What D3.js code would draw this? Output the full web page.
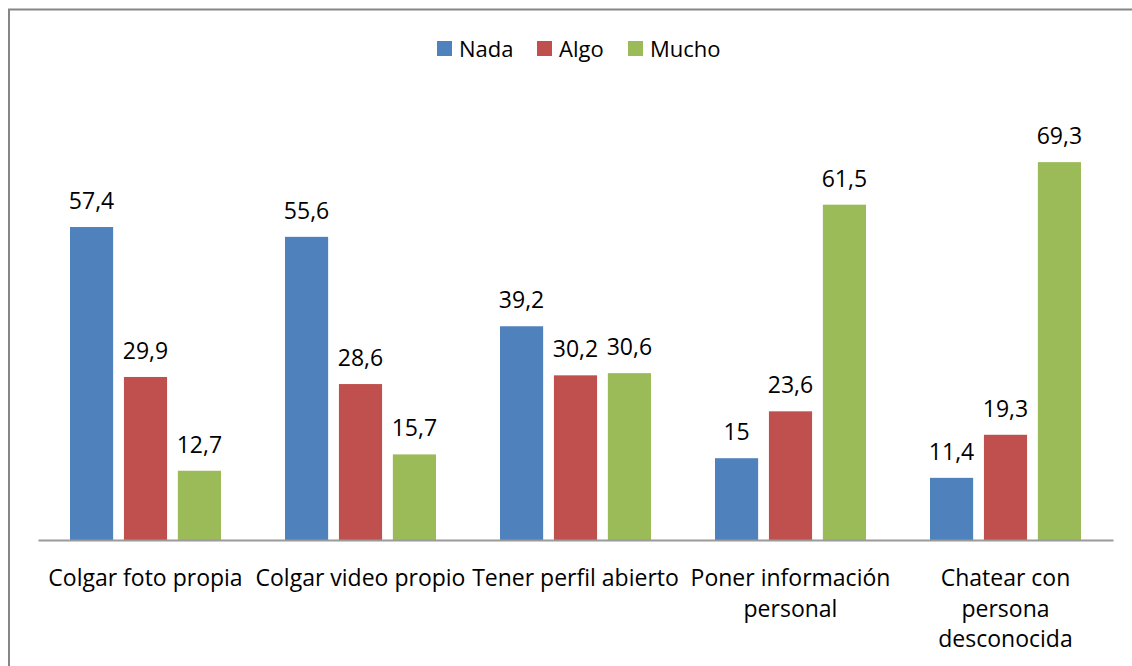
<!DOCTYPE html>
<html>
<head>
<meta charset="utf-8">
<script src="https://cdn.jsdelivr.net/npm/d3@7"></script>
<style>
  body { margin: 0; background: #fff; }
  svg text { font-family: "Open Sans", sans-serif; fill: #000; }
</style>
</head>
<body>
<div id="container"></div>
<script>
var WIDTH = 1132,
	HEIGHT = 666,
	LEFT = 38,
	RIGHT = 1113,
	BASE = 540;

var categories = ["Colgar foto propia", "Colgar video propio", "Tener perfil abierto", "Poner información personal", "Chatear con persona desconocida"];
var tickLabels = [["Colgar foto propia"], ["Colgar video propio"], ["Tener perfil abierto"], ["Poner información", "personal"], ["Chatear con", "persona", "desconocida"]];
var seriesNames = ["Nada", "Algo", "Mucho"];
var colors = ["#4F81BD", "#C0504D", "#9BBB59"];
var nada = [57.4, 55.6, 39.2, 15, 11.4];
var algo = [29.9, 28.6, 30.2, 23.6, 19.3];
var mucho = [12.7, 15.7, 30.6, 61.5, 69.3];
var series = [nada, algo, mucho];

var xScale = d3.scaleBand().domain(categories).range([LEFT, RIGHT]).paddingInner(0).paddingOuter(0);
var inner = d3.scaleBand().domain(seriesNames).range([32, 215 - 32]).paddingInner(0.2).paddingOuter(0);
var yScale = d3.scaleLinear().domain([0, 80]).range([BASE, BASE - 436.2]);

var fmt = function (v) { return String(v).replace(".", ","); };

var svg = d3.select('#container').append('svg')
	.attr('width', WIDTH)
	.attr('height', HEIGHT);

// outer frame
svg.append('rect')
	.attr('x', 9).attr('y', 9.5)
	.attr('width', WIDTH + 10).attr('height', HEIGHT + 10)
	.attr('fill', 'none').attr('stroke', '#868686').attr('stroke-width', 2);

series.forEach(function (vals, si) {
	var g = svg.append('g');
	g.selectAll('rect').data(vals).enter().append('rect')
		.attr('x', function (d, i) { return xScale(categories[i]) + inner(seriesNames[si]); })
		.attr('y', function (d) { return yScale(d); })
		.attr('width', inner.bandwidth())
		.attr('height', function (d) { return BASE - yScale(d); })
		.attr('fill', colors[si]);
	g.selectAll('text').data(vals).enter().append('text')
		.attr('x', function (d, i) { return xScale(categories[i]) + inner(seriesNames[si]) + inner.bandwidth() / 2; })
		.attr('y', function (d) { return yScale(d) - 18; })
		.attr('text-anchor', 'middle')
		.style('font-size', '23px')
		.text(fmt);
});

// axis
var xAxis = d3.axisBottom(xScale).tickSize(0).tickFormat('');
svg.append('g')
	.attr('transform', 'translate(0,' + BASE + ')')
	.call(xAxis)
	.call(function (g) { g.select('.domain').attr('stroke', '#9a9a9a').attr('stroke-width', 2); });

var labels = svg.append('g');
tickLabels.forEach(function (lines, i) {
	var t = labels.append('text')
		.attr('x', xScale(categories[i]) + xScale.bandwidth() / 2)
		.attr('y', 586)
		.attr('text-anchor', 'middle')
		.style('font-size', '23px');
	lines.forEach(function (l, j) {
		t.append('tspan')
			.attr('x', xScale(categories[i]) + xScale.bandwidth() / 2)
			.attr('dy', j === 0 ? 0 : 30.5)
			.text(l);
	});
});

// legend
var legendX = [437, 537, 628];
var legend = svg.append('g');
seriesNames.forEach(function (n, i) {
	legend.append('rect')
		.attr('x', legendX[i]).attr('y', 41)
		.attr('width', 15).attr('height', 15)
		.attr('fill', colors[i]);
	legend.append('text')
		.attr('x', legendX[i] + 22).attr('y', 57)
		.style('font-size', '22px')
		.text(n);
});
</script>
</body>
</html>
